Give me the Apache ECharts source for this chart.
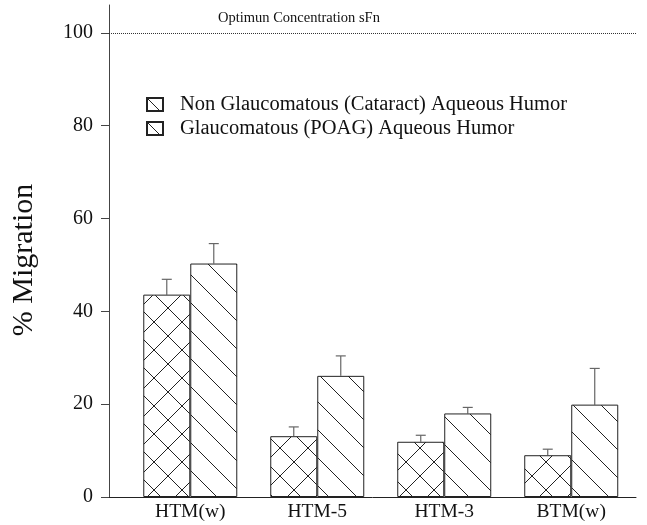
<!DOCTYPE html>
<html>
<head>
<meta charset="utf-8">
<script src="https://cdn.jsdelivr.net/npm/echarts@6/dist/echarts.min.js"></script>
<style>
  html, body { margin: 0; padding: 0; background: #fff; }
  #chart { width: 647px; height: 525px; }
</style>
</head>
<body>
<div id="chart"></div>
<script>
const categories = ['HTM(w)', 'HTM-5', 'HTM-3', 'BTM(w)']
const cataract = [43.6, 13.1, 11.9, 9.0]
const cataractErr = [3.3, 2.0, 1.4, 1.3]
const poag = [50.3, 26.1, 18.0, 19.9]
const poagErr = [4.3, 4.3, 1.3, 7.8]
const yTicks = [0, 20, 40, 60, 80, 100]
const seriesNames = ['Non Glaucomatous (Cataract) Aqueous Humor', 'Glaucomatous (POAG) Aqueous Humor']

const FONT = 'Liberation Serif'
const BAR_W = 47

// hatch fill as canvas pattern
const makeHatch = (cross) => {
  const s = 28
  const c = document.createElement('canvas')
  c.width = s
  c.height = s
  const ctx = c.getContext('2d')
  ctx.fillStyle = '#fff'
  ctx.fillRect(0, 0, s, s)
  ctx.strokeStyle = '#222'
  ctx.lineWidth = 1
  ctx.beginPath()
  for (let k = -1; k <= 1; k++) {
    ctx.moveTo(k * s, 0)
    ctx.lineTo(k * s + s, s)
    if (cross) {
      ctx.moveTo(k * s, s)
      ctx.lineTo(k * s + s, 0)
    }
  }
  ctx.stroke()
  return { image: c, repeat: 'repeat' }
}

const errData = []
categories.forEach((c, i) => {
  errData.push([i + 1, cataract[i], cataract[i] + cataractErr[i], -1])
  errData.push([i + 1, poag[i], poag[i] + poagErr[i], 1])
})

const chart = echarts.init(document.getElementById('chart'))

const option = {
  animation: false,
  backgroundColor: '#fff',
  title: {
    text: 'Optimun Concentration sFn',
    left: 213,
    top: 6,
    textStyle: { fontFamily: FONT, fontSize: 14.5, fontWeight: 'normal', color: '#111' }
  },
  legend: {
    orient: 'vertical',
    left: 141,
    top: 89,
    itemWidth: 16,
    itemHeight: 13,
    itemGap: 3,
    icon: 'rect',
    textStyle: { fontFamily: FONT, fontSize: 20.5, color: '#111', padding: [0, 0, 0, 12] },
    data: seriesNames
  },
  grid: { left: 109, right: 11, top: 5, bottom: 28 },
  xAxis: {
    type: 'value',
    min: 0.36,
    max: 4.51,
    splitLine: { show: false },
    axisLine: { lineStyle: { color: '#222', width: 1 } },
    axisTick: { show: false },
    axisLabel: {
      customValues: [1, 2, 3, 4],
      formatter: (v) => categories[Math.round(v) - 1],
      fontFamily: FONT,
      fontSize: 19.5,
      color: '#111',
      margin: 5
    }
  },
  yAxis: {
    type: 'value',
    min: 0,
    max: 106,
    name: '% Migration',
    nameLocation: 'middle',
    nameGap: 70,
    nameTextStyle: { fontFamily: FONT, fontSize: 30, color: '#111', padding: [0, 18, 0, 0] },
    splitLine: { show: false },
    axisLine: { show: true, lineStyle: { color: '#444', width: 1 } },
    axisTick: { show: true, customValues: yTicks, length: 8, inside: false, lineStyle: { color: '#444' } },
    axisLabel: {
      customValues: yTicks,
      fontFamily: FONT,
      fontSize: 20,
      color: '#111',
      margin: 16
    }
  },
  series: [
    {
      name: seriesNames[0],
      type: 'bar',
      barWidth: BAR_W,
      barGap: '0%',
      data: cataract.map((v, i) => [i + 1, v]),
      itemStyle: { color: makeHatch(true), borderColor: '#222', borderWidth: 1 },
      markLine: {
        silent: true,
        symbol: 'none',
        label: { show: false },
        lineStyle: { type: 'dotted', color: '#333', width: 1 },
        data: [{ yAxis: 100 }]
      }
    },
    {
      name: seriesNames[1],
      type: 'bar',
      barWidth: BAR_W,
      barGap: '0%',
      data: poag.map((v, i) => [i + 1, v]),
      itemStyle: { color: makeHatch(false), borderColor: '#222', borderWidth: 1 }
    },
    {
      type: 'custom',
      encode: { x: 0, y: [1, 2] },
      data: errData,
      z: 1,
      renderItem: (params, api) => {
        const base = api.coord([api.value(0), api.value(1)])
        const top = api.coord([api.value(0), api.value(2)])
        const x = base[0] + api.value(3) * BAR_W / 2
        const style = { stroke: '#666', lineWidth: 1.2 }
        return {
          type: 'group',
          children: [
            { type: 'line', shape: { x1: x, y1: base[1], x2: x, y2: top[1] }, style },
            { type: 'line', shape: { x1: x - 5, y1: top[1], x2: x + 5, y2: top[1] }, style }
          ]
        }
      }
    }
  ]
}

chart.setOption(option)
</script>
</body>
</html>
